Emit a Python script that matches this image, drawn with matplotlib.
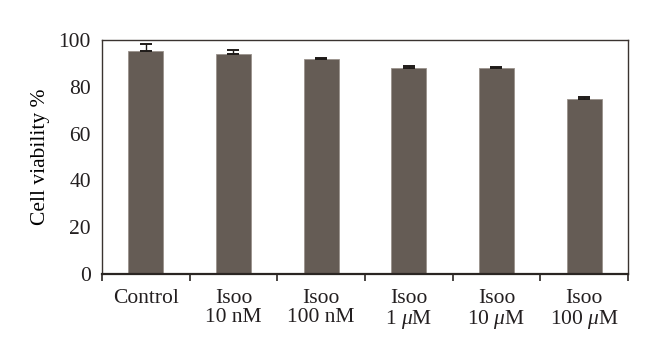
import numpy as np
import matplotlib
matplotlib.use('Agg')
import matplotlib.pyplot as plt

# datos
grupos = ['Control', 'Isoo\n10 nM', 'Isoo\n100 nM', 'Isoo\n1 $\\mu$M', 'Isoo\n10 $\\mu$M', 'Isoo\n100 $\\mu$M']
viabilidad = [95.3, 94.0, 91.7, 88.2, 88.0, 75.0]
error = [3.0, 1.6, 0.5, 0.7, 0.5, 0.6]

plt.rcParams['font.family'] = ['Liberation Serif', 'DejaVu Serif']
plt.rcParams['mathtext.fontset'] = 'custom'
plt.rcParams['mathtext.rm'] = 'Liberation Serif'
plt.rcParams['mathtext.it'] = 'Liberation Serif:italic'
plt.rcParams['text.color'] = '#231f20'
plt.rcParams['xtick.labelcolor'] = '#231f20'
plt.rcParams['ytick.labelcolor'] = '#231f20'

fig = plt.figure(figsize=(6.6, 3.64), dpi=100)
ax = fig.add_axes([102/660, 1 - 274/364, 526/660, 234/364])

x = np.arange(len(grupos))
ax.bar(x, viabilidad, width=0.4, color='#655c55', edgecolor='#9a928c', linewidth=0.6, zorder=2)
ax.errorbar(x, viabilidad, yerr=[np.zeros(len(error)), error], fmt='none',
            ecolor='#1e1a18', elinewidth=1.0, capsize=4, capthick=1.4, zorder=3)

ax.set_xlim(-0.5, 5.5)
ax.set_ylim(0, 100)
ax.set_yticks([0, 20, 40, 60, 80, 100])
ax.tick_params(axis='y', length=0, pad=8, labelsize=15.5)

# ticks en los limites de cada grupo, etiquetas centradas
ax.set_xticks(np.arange(-0.5, 6, 1))
ax.set_xticklabels([])
ax.set_xticks(x, minor=True)
ax.set_xticklabels(grupos, minor=True, fontsize=15.5, linespacing=1.0)
ax.tick_params(axis='x', which='major', length=5, width=1.2, color='#2a2522', direction='out')
ax.tick_params(axis='x', which='minor', length=0, pad=11)

for lado in ['left', 'top', 'right']:
    ax.spines[lado].set_linewidth(1.0)
    ax.spines[lado].set_color('#3a3330')
ax.spines['bottom'].set_linewidth(1.6)
ax.spines['bottom'].set_color('#2a2522')

ax.set_ylabel('Cell viability %', fontsize=15.5, labelpad=6)

fig.savefig('out.png', dpi=100)
